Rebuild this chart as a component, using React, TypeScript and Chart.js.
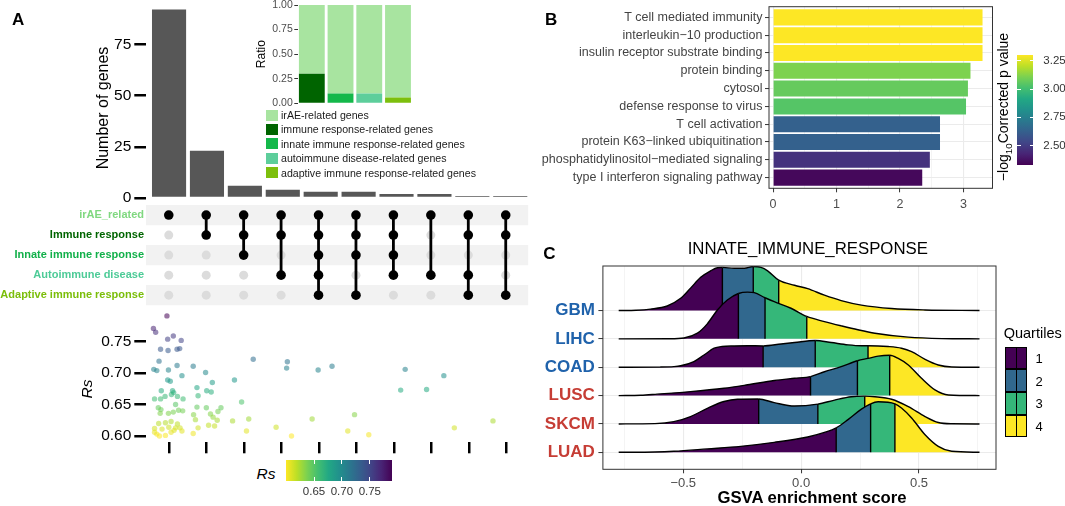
import React, { useEffect, useRef } from 'react';
import { Chart, registerables } from 'chart.js';

Chart.register(...registerables);

const FONT = '"Liberation Sans", Arial, Helvetica, sans-serif';
Chart.defaults.font.family = FONT;
Chart.defaults.color = '#000';

// ---------------- Panel A : UpSet ----------------
const intersectionCounts = [92, 23, 6, 4, 3, 3, 2, 2, 1, 1];
const geneCountTicks = [0, 25, 50, 75];
const setNames = ['irAE_related', 'Immune response', 'Innate immune response', 'Autoimmune disease', 'Adaptive immune response'];
const setLabelColors = ['#80D880', '#006400', '#12B04A', '#4DCB97', '#7BBE0A'];
const intersectionSets = [[0], [0, 1], [0, 1, 2], [0, 1, 3], [0, 1, 2, 3, 4], [0, 1, 2, 4], [0, 1, 2, 3], [0, 3], [0, 1, 3, 4], [0, 1, 4]];

// inset ratio bars
const ratioGroups = ['immune response-related genes', 'innate immune response-related genes', 'autoimmune disease-related genes', 'adaptive immune response-related genes'];
const ratioGroupColors = ['#006400', '#14B84A', '#5DCE9B', '#7DBF0D'];
const ratioSpecific = [0.30, 0.10, 0.10, 0.06];
const ratioIrAE = [0.70, 0.90, 0.90, 0.94];
const irAELabel = 'irAE-related genes';
const irAEColor = '#A8E4A0';
const ratioTicks = [0, 0.25, 0.5, 0.75, 1];

// Rs scatter (intersection position incl. jitter, Rs value)
const rsPosition = [-0.05, -0.41, -0.35, -0.03, 0.12, 0.33, -0.22, -0.02, 0.22, 0.29,
  -0.26, -0.40, -0.32, -0.01, 0.22, 0.35, 0.65, 0.98, 1.16, 1.75,
  -0.03, 0.04, 2.25, 3.16, 3.14, 3.98, 4.35, 6.30, 7.33, 6.18,
  6.87, -0.20, 0.10, 0.13, 0.75, 1.01, 1.13, -0.38, -0.22, -0.10,
  0.07, 0.23, 0.38, 0.78, 1.94, -0.28, -0.21, 0.18, -0.23, -0.01,
  0.12, 0.26, 0.37, 0.75, 1.00, 1.11, 1.39, 1.31, 0.66, 0.71,
  1.18, 1.29, 1.70, 2.13, 3.82, 4.95, 8.64, -0.27, -0.09, 0.06,
  0.23, -0.38, -0.18, 0.00, 0.18, 0.30, 0.35, -0.38, -0.32, -0.25,
  -0.09, 0.06, 0.14, 0.78, 1.06, 1.22, 0.65, 2.07, 2.86, 3.27,
  4.77, 5.33, 7.61];
const rsValues = [0.791, 0.771, 0.765, 0.754, 0.759, 0.752, 0.738, 0.736, 0.738, 0.739,
  0.719, 0.706, 0.704, 0.705, 0.712, 0.696, 0.711, 0.701, 0.685, 0.689,
  0.689, 0.687, 0.722, 0.718, 0.708, 0.705, 0.711, 0.706, 0.696, 0.673,
  0.674, 0.672, 0.672, 0.669, 0.677, 0.672, 0.670, 0.659, 0.659, 0.663,
  0.666, 0.663, 0.659, 0.664, 0.654, 0.645, 0.642, 0.650, 0.636, 0.636,
  0.638, 0.641, 0.640, 0.646, 0.645, 0.635, 0.645, 0.639, 0.634, 0.626,
  0.630, 0.625, 0.624, 0.627, 0.627, 0.634, 0.624, 0.620, 0.621, 0.623,
  0.619, 0.612, 0.611, 0.614, 0.613, 0.613, 0.608, 0.606, 0.603, 0.600,
  0.601, 0.606, 0.609, 0.613, 0.617, 0.616, 0.604, 0.608, 0.614, 0.600,
  0.608, 0.602, 0.613];
const rsTicks = [0.60, 0.65, 0.70, 0.75];
const rsLegendTicks = [0.65, 0.70, 0.75];
const rsRange = [0.60, 0.789];

// ---------------- Panel B : GO bars ----------------
const goTerms = ['T cell mediated immunity', 'interleukin\u221210 production', 'insulin receptor substrate binding', 'protein binding', 'cytosol', 'defense response to virus', 'T cell activation', 'protein K63\u2212linked ubiquitination', 'phosphatidylinositol\u2212mediated signaling', 'type I interferon signaling pathway'];
const goScores = [3.30, 3.30, 3.30, 3.11, 3.07, 3.04, 2.63, 2.63, 2.47, 2.35];
const goTicks = [0, 0.5, 1, 1.5, 2, 2.5, 3];
const goLegendTicks = [2.50, 2.75, 3.00, 3.25];
const goRange = [2.33, 3.30];

// ---------------- Panel C : ridgelines ----------------
const cancerTypes = ['GBM', 'LIHC', 'COAD', 'LUSC', 'SKCM', 'LUAD'];
const cancerLabelColors = ['#1F62AB', '#1F62AB', '#1F62AB', '#C63D35', '#C63D35', '#C63D35'];
const gbmScore = [-0.774, -0.70, -0.639, -0.568, -0.511, -0.469, -0.426, -0.384, -0.355, -0.334, -0.284, -0.241, -0.203, -0.170, -0.142, -0.095, -0.028, 0.028, 0.099, 0.170, 0.256, 0.384, 0.526, 0.757];
const gbmDensity = [0, 0.01, 0.05, 0.16, 0.43, 0.79, 1.17, 1.40, 1.51, 1.52, 1.49, 1.49, 1.55, 1.52, 1.40, 1.07, 0.89, 0.77, 0.54, 0.35, 0.19, 0.07, 0.02, 0];
const gbmQuartiles = [-0.334, -0.203, -0.095];
const lihcScore = [-0.774, -0.56, -0.497, -0.440, -0.398, -0.355, -0.313, -0.266, -0.227, -0.199, -0.153, -0.114, -0.043, 0.024, 0.099, 0.170, 0.241, 0.313, 0.455, 0.597, 0.757];
const lihcDensity = [0, 0.005, 0.03, 0.20, 0.53, 1.02, 1.37, 1.60, 1.65, 1.63, 1.45, 1.31, 1.08, 0.79, 0.61, 0.46, 0.32, 0.20, 0.06, 0.01, 0];
const lihcQuartiles = [-0.266, -0.153, 0.024];
const coadScore = [-0.774, -0.60, -0.54, -0.511, -0.455, -0.412, -0.369, -0.335, -0.284, -0.227, -0.161, -0.085, -0.028, 0.060, 0.128, 0.199, 0.256, 0.284, 0.369, 0.426, 0.469, 0.526, 0.582, 0.639, 0.757];
const coadDensity = [0, 0.005, 0.02, 0.05, 0.20, 0.43, 0.67, 0.73, 0.75, 0.76, 0.75, 0.82, 0.87, 0.94, 0.87, 0.79, 0.76, 0.76, 0.73, 0.67, 0.55, 0.28, 0.08, 0.01, 0];
const coadQuartiles = [-0.161, 0.060, 0.284];
const luscScore = [-0.774, -0.68, -0.611, -0.469, -0.327, -0.227, -0.114, -0.028, 0.040, 0.099, 0.170, 0.239, 0.284, 0.327, 0.376, 0.412, 0.455, 0.511, 0.568, 0.625, 0.757];
const luscDensity = [0, 0.01, 0.05, 0.14, 0.26, 0.38, 0.53, 0.61, 0.67, 0.84, 1.02, 1.23, 1.31, 1.39, 1.42, 1.31, 1.08, 0.61, 0.20, 0.02, 0];
const luscQuartiles = [0.040, 0.239, 0.376];
const skcmScore = [-0.774, -0.62, -0.540, -0.469, -0.398, -0.327, -0.270, -0.180, -0.114, -0.028, 0.071, 0.142, 0.213, 0.270, 0.313, 0.384, 0.455, 0.526, 0.582, 0.639, 0.757];
const skcmDensity = [0, 0.01, 0.08, 0.26, 0.55, 0.79, 0.87, 0.88, 0.75, 0.63, 0.70, 0.84, 0.96, 0.98, 0.96, 0.87, 0.61, 0.26, 0.05, 0.005, 0];
const skcmQuartiles = [-0.180, 0.071, 0.270];
const luadScore = [-0.774, -0.62, -0.540, -0.398, -0.256, -0.114, 0.028, 0.099, 0.149, 0.199, 0.256, 0.295, 0.327, 0.398, 0.426, 0.469, 0.526, 0.582, 0.639, 0.757];
const luadDensity = [0, 0.01, 0.035, 0.12, 0.21, 0.35, 0.54, 0.70, 0.86, 1.15, 1.52, 1.71, 1.78, 1.71, 1.56, 1.21, 0.62, 0.21, 0.035, 0];
const luadQuartiles = [0.149, 0.295, 0.398];
const quartileLabels = ['1', '2', '3', '4'];
const quartileColors = ['#440154', '#31688E', '#35B779', '#FDE725'];
const gsvaTicks = [-0.75, -0.5, -0.25, 0, 0.25, 0.5, 0.75];
const gsvaMajor = [-0.5, 0, 0.5];

// ---------------- helpers ----------------
const VIRIDIS = ['#440154', '#482475', '#414487', '#355F8D', '#2A788E', '#21918C', '#22A884', '#44BF70', '#7AD151', '#BDDF26', '#FDE725'];
const hexToRgb = (h: string) => { const n = parseInt(h.slice(1), 16); return [(n >> 16) & 255, (n >> 8) & 255, n & 255]; };
function viridis(t: number, alpha = 1) {
  const tt = Math.max(0, Math.min(1, t));
  const p = tt * (VIRIDIS.length - 1);
  const i = Math.min(Math.floor(p), VIRIDIS.length - 2);
  const f = p - i;
  const a = hexToRgb(VIRIDIS[i]);
  const b = hexToRgb(VIRIDIS[i + 1]);
  const c = a.map((v, k) => Math.round(v + (b[k] - v) * f));
  return `rgba(${c[0]},${c[1]},${c[2]},${alpha})`;
}
const fixWidth = (w: number) => (scale: any) => { scale.width = w; scale.paddingTop = 0; scale.paddingBottom = 0; };
const fixHeight = (h: number) => (scale: any) => { scale.height = h; scale.paddingLeft = 0; scale.paddingRight = 0; };
const setTicks = (vals: number[]) => (scale: any) => { scale.ticks = vals.map((v) => ({ value: v })); };
const isInt = (v: number) => Math.abs(v - Math.round(v)) < 1e-9;
const fmtMinus = (v: number, d: number) => (v < -1e-9 ? '\u2212' + Math.abs(v).toFixed(d) : Math.abs(v).toFixed(d));

const panelBorder = {
  id: 'panelBorder',
  afterDatasetsDraw(chart: any, _args: any, opts: any) {
    if (!opts || !opts.color) return;
    const { ctx, chartArea: a } = chart;
    ctx.save();
    ctx.strokeStyle = opts.color;
    ctx.lineWidth = opts.width || 1;
    ctx.strokeRect(a.left, a.top, a.right - a.left, a.bottom - a.top);
    ctx.restore();
  },
};
Chart.register(panelBorder as any);

const common = {
  animation: false,
  responsive: false,
  maintainAspectRatio: false,
  events: [] as any[],
};
const noPlugins = { legend: { display: false }, tooltip: { enabled: false } };

const XMIN_A = -0.6;
const XMAX_A = 9.6;
const idx10 = intersectionCounts.map((_, i) => i);

// ---------------- chart specs ----------------
type Spec = { key: string; left: number; top: number; width: number; height: number; config: () => any };

const specs: Spec[] = [
  {
    key: 'upsetBars', left: 0, top: 0, width: 533, height: 210,
    config: () => ({
      type: 'bar',
      data: {
        datasets: [{
          data: intersectionCounts.map((c, i) => ({ x: i, y: c })),
          backgroundColor: '#575757', barPercentage: 0.9, categoryPercentage: 1,
        }],
      },
      options: {
        ...common,
        layout: { padding: { top: 0, bottom: 12, left: 0, right: 0 } },
        plugins: noPlugins,
        scales: {
          x: { type: 'linear', min: XMIN_A, max: XMAX_A, offset: false, display: false, grid: { offset: false } },
          y: {
            min: 0, max: 96.6,
            afterBuildTicks: setTicks(geneCountTicks), afterFit: fixWidth(146.3),
            border: { display: false },
            grid: { drawOnChartArea: false, drawTicks: true, tickLength: 12, lineWidth: 2.5, tickWidth: 2.5, tickColor: '#000' },
            ticks: { color: '#000', font: { size: 15.5 }, padding: 3, autoSkip: false },
          },
        },
      },
    }),
  },
  {
    key: 'ratioInset', left: 230, top: 0, width: 182, height: 106,
    config: () => ({
      type: 'bar',
      data: {
        datasets: [
          ...ratioGroups.map((g, i) => ({
            label: g, data: [{ x: i, y: ratioSpecific[i] }], backgroundColor: ratioGroupColors[i],
            barPercentage: 0.9, categoryPercentage: 1,
          })),
          {
            label: irAELabel, data: ratioIrAE.map((v, i) => ({ x: i, y: v })), backgroundColor: irAEColor,
            barPercentage: 0.9, categoryPercentage: 1,
          },
        ],
      },
      options: {
        ...common,
        layout: { padding: { top: 5, bottom: 2.7, left: 0, right: 0.5 } },
        plugins: noPlugins,
        scales: {
          x: { type: 'linear', min: -0.47, max: 3.47, stacked: true, offset: false, display: false, grid: { offset: false } },
          y: {
            stacked: true, min: 0, max: 1,
            afterBuildTicks: setTicks(ratioTicks), afterFit: fixWidth(68.3),
            border: { display: false },
            grid: { drawOnChartArea: false, tickLength: 4, lineWidth: 1, tickColor: '#333' },
            ticks: { color: '#4D4D4D', font: { size: 10.5 }, padding: 1.5, autoSkip: false, callback: (v: number) => v.toFixed(2) },
            title: { display: true, text: 'Ratio', color: '#000', font: { size: 12 }, padding: { top: 24.5, bottom: 0 } },
          },
        },
      },
    }),
  },
  {
    key: 'matrix', left: 0, top: 200, width: 533, height: 110,
    config: () => {
      const gray: any[] = [];
      const black: any[] = [];
      const lines: any[] = [];
      intersectionSets.forEach((members, i) => {
        setNames.forEach((_, r) => {
          if (members.includes(r)) black.push({ x: i, y: r });
          else gray.push({ x: i, y: r });
        });
        const lo = Math.min(...members);
        const hi = Math.max(...members);
        if (hi > lo) lines.push({ x: i, y: lo }, { x: i, y: hi }, { x: i, y: null });
      });
      return {
        type: 'scatter',
        data: {
          datasets: [
            { data: gray, pointRadius: 4.5, pointBackgroundColor: '#DCDCDC', pointBorderWidth: 0, order: 3 },
            { data: lines, showLine: true, spanGaps: false, borderColor: '#000', borderWidth: 2.8, pointRadius: 0, order: 2 },
            { data: black, pointRadius: 4.8, pointBackgroundColor: '#000', pointBorderWidth: 0, order: 1 },
          ],
        },
        options: {
          ...common,
          layout: { padding: { top: 5, bottom: 3.5, left: 0, right: 0 } },
          plugins: noPlugins,
          scales: {
            x: { type: 'linear', min: XMIN_A, max: XMAX_A, display: false },
            y: {
              type: 'linear', min: -0.5, max: 4.5, reverse: true,
              afterBuildTicks: setTicks(setNames.map((_, i) => i)), afterFit: fixWidth(146.3),
              border: { display: false },
              grid: {
                drawTicks: false, lineWidth: 20.3,
                color: (ctx: any) => (ctx.tick && Math.round(ctx.tick.value) % 2 === 0 ? '#F2F2F2' : 'rgba(0,0,0,0)'),
              },
              ticks: {
                autoSkip: false, padding: 2.3, font: { size: 11, weight: 'bold' },
                color: (ctx: any) => setLabelColors[Math.round(ctx.tick.value)],
                callback: (v: number) => setNames[Math.round(v)],
              },
            },
          },
        },
      };
    },
  },
  {
    key: 'rsScatter', left: 0, top: 305, width: 533, height: 155,
    config: () => ({
      type: 'scatter',
      data: {
        datasets: [{
          data: rsPosition.map((x, i) => ({ x, y: rsValues[i] })),
          pointRadius: 2.7, pointBorderWidth: 0,
          pointBackgroundColor: rsValues.map((v) => viridis(1 - (v - rsRange[0]) / (rsRange[1] - rsRange[0]), 0.55)),
        }],
      },
      options: {
        ...common,
        layout: { padding: { top: 4.6, bottom: 0, left: 0, right: 0 } },
        plugins: noPlugins,
        scales: {
          x: {
            type: 'linear', min: XMIN_A, max: XMAX_A,
            afterBuildTicks: setTicks(idx10), afterFit: fixHeight(17.7),
            border: { display: false },
            grid: { drawOnChartArea: false, tickLength: 11, lineWidth: 2.5, tickWidth: 2.5, tickColor: '#000' },
            ticks: { callback: () => '', padding: 0, autoSkip: false, maxRotation: 0 },
          },
          y: {
            min: 0.59, max: 0.801,
            afterBuildTicks: setTicks(rsTicks), afterFit: fixWidth(146.3),
            border: { display: false },
            grid: { drawOnChartArea: false, tickLength: 12, lineWidth: 2.5, tickWidth: 2.5, tickColor: '#000' },
            ticks: { color: '#000', font: { size: 15.5 }, padding: 3, autoSkip: false, callback: (v: number) => v.toFixed(2) },
          },
        },
      },
    }),
  },
  {
    key: 'goBars', left: 540, top: 0, width: 460, height: 215,
    config: () => ({
      type: 'bar',
      data: {
        datasets: [{
          data: goScores.map((v, i) => ({ x: v, y: i })),
          backgroundColor: goScores.map((v) => viridis((v - goRange[0]) / (goRange[1] - goRange[0]))),
          barPercentage: 0.9, categoryPercentage: 1,
        }],
      },
      options: {
        ...common,
        indexAxis: 'y',
        layout: { padding: { top: 6.7, right: 7.5, left: 0, bottom: 0 } },
        plugins: { ...noPlugins, panelBorder: { color: '#333333', width: 1 } },
        scales: {
          x: {
            type: 'linear', min: -0.064, max: 3.457,
            afterBuildTicks: setTicks(goTicks), afterFit: fixHeight(26.7),
            border: { display: false },
            grid: {
              color: '#EBEBEB', lineWidth: (ctx: any) => (ctx.tick && isInt(ctx.tick.value) ? 1.1 : 0.55),
              tickColor: (ctx: any) => (ctx.tick && isInt(ctx.tick.value) ? '#333' : 'rgba(0,0,0,0)'),
              tickLength: 4, tickWidth: 1,
            },
            ticks: {
              color: '#4D4D4D', font: { size: 12.5 }, padding: 5.2, autoSkip: false, maxRotation: 0,
              callback: (v: number) => (isInt(v) ? String(Math.round(v)) : ''),
            },
          },
          y: {
            type: 'linear', min: -0.6, max: 9.6, reverse: true, offset: false,
            afterBuildTicks: setTicks(goTerms.map((_, i) => i)), afterFit: fixWidth(229),
            border: { display: false },
            grid: { color: '#EBEBEB', lineWidth: 1.1, tickColor: '#333', tickLength: 4, tickWidth: 1, offset: false },
            ticks: { color: '#444', font: { size: 12.5 }, padding: 2.5, autoSkip: false, callback: (v: number) => goTerms[Math.round(v)] },
          },
        },
      },
    }),
  },
  {
    key: 'ridges', left: 540, top: 235, width: 465, height: 271,
    config: () => {
      const ridges = [
        { xs: gbmScore, hs: gbmDensity, q: gbmQuartiles },
        { xs: lihcScore, hs: lihcDensity, q: lihcQuartiles },
        { xs: coadScore, hs: coadDensity, q: coadQuartiles },
        { xs: luscScore, hs: luscDensity, q: luscQuartiles },
        { xs: skcmScore, hs: skcmDensity, q: skcmQuartiles },
        { xs: luadScore, hs: luadDensity, q: luadQuartiles },
      ];
      const qIndex = (x: number, q: number[]) => (x < q[0] - 1e-9 ? 0 : x < q[1] - 1e-9 ? 1 : x < q[2] - 1e-9 ? 2 : 3);
      const datasets: any[] = [];
      ridges.forEach((r, k) => {
        const base = cancerTypes.length - k;
        datasets.push({
          data: r.xs.map((x, i) => ({ x, y: base + r.hs[i] })),
          borderColor: '#000', borderWidth: 1.4, pointRadius: 0,
          cubicInterpolationMode: 'monotone',
          fill: { value: base },
          backgroundColor: quartileColors[0],
          segment: { backgroundColor: (ctx: any) => quartileColors[qIndex(r.xs[ctx.p0DataIndex], r.q)] },
          order: 100 - 2 * k,
        });
        const qLines: any[] = [];
        r.q.forEach((qx) => {
          const j = r.xs.indexOf(qx);
          qLines.push({ x: qx, y: base }, { x: qx, y: base + r.hs[j] }, { x: qx, y: null });
        });
        datasets.push({
          data: qLines, borderColor: '#000', borderWidth: 1.4, pointRadius: 0, fill: false, spanGaps: false,
          order: 99 - 2 * k,
        });
      });
      return {
        type: 'line',
        data: { datasets },
        options: {
          ...common,
          layout: { padding: { top: 31, right: 9, left: 0, bottom: 0 } },
          plugins: { ...noPlugins, panelBorder: { color: '#333333', width: 1 } },
          scales: {
            x: {
              type: 'linear', min: -0.841, max: 0.827,
              afterBuildTicks: setTicks(gsvaTicks), afterFit: fixHeight(36.7),
              border: { display: false },
              grid: {
                color: '#EBEBEB',
                lineWidth: (ctx: any) => (ctx.tick && gsvaMajor.some((m) => Math.abs(m - ctx.tick.value) < 1e-9) ? 1.1 : 0.55),
                tickColor: (ctx: any) => (ctx.tick && gsvaMajor.some((m) => Math.abs(m - ctx.tick.value) < 1e-9) ? '#333' : 'rgba(0,0,0,0)'),
                tickLength: 4, tickWidth: 1,
              },
              ticks: {
                color: '#4D4D4D', font: { size: 13 }, padding: 2.2, autoSkip: false, maxRotation: 0,
                callback: (v: number) => (gsvaMajor.some((m) => Math.abs(m - v) < 1e-9) ? fmtMinus(v, 1) : ''),
              },
            },
            y: {
              type: 'linear', min: 0.4, max: 7.57,
              afterBuildTicks: setTicks(cancerTypes.map((_, i) => i + 1)), afterFit: fixWidth(62.9),
              border: { display: false },
              grid: { color: '#EBEBEB', lineWidth: 1.1, tickColor: '#333', tickLength: 4.5, tickWidth: 1 },
              ticks: {
                autoSkip: false, padding: 3.5, font: { size: 17, weight: 'bold' },
                color: (ctx: any) => cancerLabelColors[cancerTypes.length - Math.round(ctx.tick.value)],
                callback: (v: number) => cancerTypes[cancerTypes.length - Math.round(v)],
              },
            },
          },
        },
      };
    },
  },
];

// ---------------- HTML helpers ----------------
const abs = (s: React.CSSProperties): React.CSSProperties => ({ position: 'absolute', whiteSpace: 'nowrap', lineHeight: 1, ...s });

function PanelLetter({ x, y, t }: { x: number; y: number; t: string }) {
  return <div style={abs({ left: x, top: y, fontSize: 17, fontWeight: 'bold', color: '#000' })}>{t}</div>;
}

function CenterText({ x, y, size, children, rotate = 0, bold = false, italic = false, color = '#000' }: any) {
  return (
    <div style={abs({
      left: x, top: y, fontSize: size, color, fontWeight: bold ? 'bold' : 'normal', fontStyle: italic ? 'italic' : 'normal',
      transform: `translate(-50%,-50%) rotate(${rotate}deg)`,
    })}>{children}</div>
  );
}

export default function App() {
  const refs = useRef<(HTMLCanvasElement | null)[]>([]);
  useEffect(() => {
    const charts = specs.map((s, i) => new Chart(refs.current[i]!.getContext('2d')!, s.config()));
    return () => charts.forEach((c) => c.destroy());
  }, []);

  // Rs colourbar geometry
  const rsBar = { left: 286.1, top: 460, width: 105.5, height: 21 };
  const rsX = (v: number) => rsBar.left + ((v - rsRange[0]) / (rsRange[1] - rsRange[0])) * rsBar.width;
  // GO colourbar geometry
  const goBar = { left: 1017.3, top: 55, width: 16, height: 110 };
  const goY = (v: number) => goBar.top + goBar.height - ((v - goRange[0]) / (goRange[1] - goRange[0])) * goBar.height;

  const legendItems = [{ label: irAELabel, color: irAEColor }, ...ratioGroups.map((g, i) => ({ label: g, color: ratioGroupColors[i] }))];
  const legendY = [115, 129.4, 143.8, 158.2, 172.6];
  const qKey = { left: 1005.4, top: 346.7, width: 21.7, height: 22.65 };

  return (
    <div style={{ position: 'fixed', left: 0, top: 0, width: 1065, height: 506, background: '#fff', overflow: 'hidden', fontFamily: FONT }}>
      {specs.map((s, i) => (
        <canvas
          key={s.key}
          ref={(el) => { refs.current[i] = el; }}
          width={s.width}
          height={s.height}
          style={{ position: 'absolute', left: s.left, top: s.top, width: s.width, height: s.height }}
        />
      ))}

      <PanelLetter x={12} y={11.1} t="A" />
      <PanelLetter x={545} y={11.1} t="B" />
      <PanelLetter x={543.3} y={244.5} t="C" />

      {/* Panel A titles */}
      <CenterText x={103} y={107.5} size={16} rotate={-90}>Number of genes</CenterText>
      <CenterText x={86.5} y={389} size={15.5} rotate={-90} italic>Rs</CenterText>

      {/* inset legend */}
      {legendItems.map((it, i) => (
        <React.Fragment key={it.label}>
          <div style={abs({ left: 265.6, top: legendY[i] - 5.5, width: 12, height: 11, background: it.color })} />
          <div style={abs({ left: 281, top: legendY[i], fontSize: 10.6, color: '#1a1a1a', transform: 'translateY(-50%)' })}>{it.label}</div>
        </React.Fragment>
      ))}

      {/* Rs colourbar */}
      <CenterText x={266} y={473.5} size={15.5} italic>Rs</CenterText>
      <div style={abs({ left: rsBar.left, top: rsBar.top, width: rsBar.width, height: rsBar.height, background: `linear-gradient(to right, ${VIRIDIS.slice().reverse().join(',')})` })} />
      {rsLegendTicks.map((v) => (
        <React.Fragment key={v}>
          <div style={abs({ left: rsX(v) - 0.5, top: rsBar.top, width: 1, height: 4, background: '#fff' })} />
          <div style={abs({ left: rsX(v) - 0.5, top: rsBar.top + rsBar.height - 4, width: 1, height: 4, background: '#fff' })} />
          <CenterText x={rsX(v)} y={491.7} size={11.5} color="#333">{v.toFixed(2)}</CenterText>
        </React.Fragment>
      ))}

      {/* GO colourbar */}
      <CenterText x={1003.3} y={106.7} size={14} rotate={-90}>
        <span>{'\u2212'}log<sub style={{ fontSize: '70%', verticalAlign: 'sub', lineHeight: 0 }}>10</sub>Corrected p value</span>
      </CenterText>
      <div style={abs({ left: goBar.left, top: goBar.top, width: goBar.width, height: goBar.height, background: `linear-gradient(to top, ${VIRIDIS.join(',')})` })} />
      {goLegendTicks.map((v) => (
        <React.Fragment key={v}>
          <div style={abs({ left: goBar.left, top: goY(v) - 0.5, width: 3.5, height: 1, background: '#fff' })} />
          <div style={abs({ left: goBar.left + goBar.width - 3.5, top: goY(v) - 0.5, width: 3.5, height: 1, background: '#fff' })} />
          <div style={abs({ left: 1043.3, top: goY(v), fontSize: 11.5, color: '#333', transform: 'translateY(-50%)' })}>{v.toFixed(2)}</div>
        </React.Fragment>
      ))}

      {/* Panel C texts */}
      <CenterText x={807.8} y={249.3} size={16.8}>INNATE_IMMUNE_RESPONSE</CenterText>
      <CenterText x={812} y={497.7} size={16.7} bold>GSVA enrichment score</CenterText>
      <div style={abs({ left: 1003.7, top: 332.7, fontSize: 14.5, color: '#000', transform: 'translateY(-50%)' })}>Quartiles</div>
      {quartileLabels.map((q, i) => (
        <React.Fragment key={q}>
          <div style={abs({ left: qKey.left, top: qKey.top + i * qKey.height, width: qKey.width, height: qKey.height, background: quartileColors[i], border: '1.5px solid #000', boxSizing: 'border-box' })} />
          <div style={abs({ left: qKey.left + qKey.width / 2 - 0.75, top: qKey.top + i * qKey.height, width: 1.5, height: qKey.height, background: '#000' })} />
          <div style={abs({ left: 1035.5, top: qKey.top + (i + 0.5) * qKey.height, fontSize: 13, color: '#000', transform: 'translateY(-50%)' })}>{q}</div>
        </React.Fragment>
      ))}
    </div>
  );
}
